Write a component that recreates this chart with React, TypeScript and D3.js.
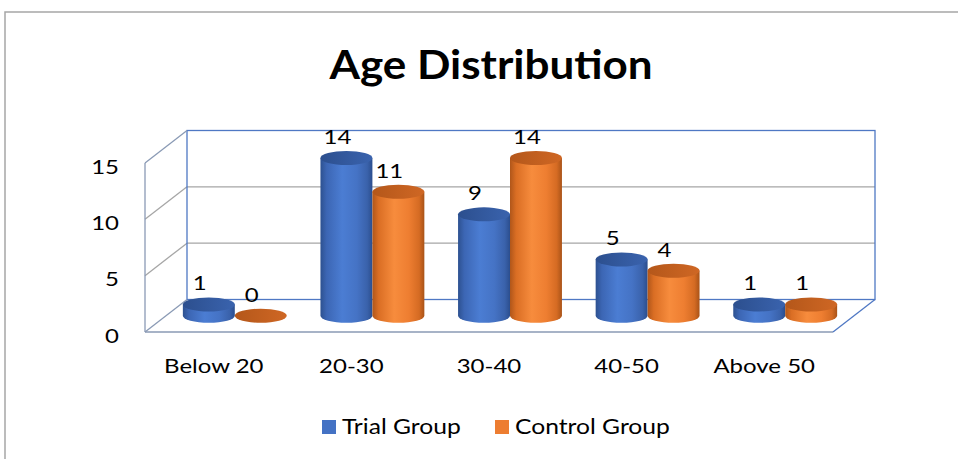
import React, { useEffect, useRef } from "react";
import * as d3 from "d3";

const categories = ["Below 20", "20-30", "30-40", "40-50", "Above 50"];
const seriesNames = ["Trial Group", "Control Group"];
const trialGroup = [1, 14, 9, 5, 1];
const controlGroup = [0, 11, 14, 4, 1];
const yTicks = [0, 5, 10, 15];

const W = 958;
const H = 459;
const FONT = "Lato, 'Open Sans', sans-serif";
const STRETCH = 1.2; // the picture text looks widened horizontally

export default function App() {
  const ref = useRef<SVGSVGElement | null>(null);

  useEffect(() => {
    const svg = d3.select(ref.current);
    svg.selectAll("*").remove();

    // front plane of the 3d box and its depth offset
    const left = 145;
    const right = 833;
    const DX = 42;
    const DY = -32.5;

    const y = d3.scaleLinear().domain([0, 15]).range([332, 163]);
    const x = d3
      .scaleBand<string>()
      .domain(categories)
      .range([left, right])
      .paddingInner(0.245)
      .paddingOuter(0.1225);
    const xs = d3.scaleBand<string>().domain(seriesNames).range([0, x.bandwidth()]);

    const defs = svg.append("defs");
    const grad = (id: string, stops: [number, string][]) => {
      const g = defs.append("linearGradient").attr("id", id).attr("x1", "0%").attr("x2", "100%").attr("y1", "0%").attr("y2", "0%");
      stops.forEach(([o, c]) => g.append("stop").attr("offset", o + "%").attr("stop-color", c));
    };
    grad("bodyBlue", [[0, "#2D5190"], [12, "#3C66B4"], [42, "#4B7DD3"], [70, "#4573C5"], [90, "#3A62AB"], [100, "#2B4E8E"]]);
    grad("bodyOrange", [[0, "#B0561A"], [12, "#DA6E24"], [42, "#F78C3D"], [70, "#EE7E31"], [90, "#D56B23"], [100, "#A95318"]]);
    grad("topBlue", [[0, "#2C4F8E"], [100, "#3A63AE"]]);
    grad("topOrange", [[0, "#B4571A"], [100, "#CF6724"]]);

    // outer chart border
    svg.append("rect")
      .attr("x", 5).attr("y", 12).attr("width", W + 40).attr("height", H + 40)
      .attr("fill", "white").attr("stroke", "#A6A6A6").attr("stroke-width", 1.5);

    const blue = "#4F78C4";
    const sideCol = "#8A9AB5";
    const grey = "#A6A6A6";

    // back wall grid lines
    const box = svg.append("g").attr("fill", "none").attr("stroke-width", 1.3);
    yTicks.filter((t) => t > 0 && t < 15).forEach((t) => {
      box.append("line")
        .attr("x1", left + DX).attr("x2", right + DX)
        .attr("y1", y(t) + DY).attr("y2", y(t) + DY)
        .attr("stroke", grey);
      box.append("line")
        .attr("x1", left).attr("x2", left + DX)
        .attr("y1", y(t)).attr("y2", y(t) + DY)
        .attr("stroke", grey);
    });
    // back wall frame
    box.append("rect")
      .attr("x", left + DX).attr("y", y(15) + DY)
      .attr("width", right - left).attr("height", y(0) - y(15))
      .attr("stroke", blue);
    // side wall and floor
    box.append("line").attr("x1", left).attr("x2", left).attr("y1", y(15)).attr("y2", y(0)).attr("stroke", sideCol);
    box.append("line").attr("x1", left).attr("x2", left + DX).attr("y1", y(15)).attr("y2", y(15) + DY).attr("stroke", sideCol);
    box.append("line").attr("x1", left).attr("x2", left + DX).attr("y1", y(0)).attr("y2", y(0) + DY).attr("stroke", sideCol);
    box.append("line").attr("x1", left).attr("x2", right).attr("y1", y(0)).attr("y2", y(0)).attr("stroke", sideCol);
    box.append("line").attr("x1", right).attr("x2", right + DX).attr("y1", y(0)).attr("y2", y(0) + DY).attr("stroke", blue);

    // y axis labels
    svg.append("g")
      .selectAll("text")
      .data(yTicks)
      .join("text")
      .attr("transform", (d) => `translate(119, ${y(d) + 3}) scale(${STRETCH},1)`)
      .attr("text-anchor", "end")
      .attr("dominant-baseline", "central")
      .style("font", `20px ${FONT}`)
      .text((d) => d);

    // category labels
    svg.append("g")
      .selectAll("text")
      .data(categories)
      .join("text")
      .attr("transform", (d) => `translate(${x(d)! + x.bandwidth() / 2}, 373) scale(${STRETCH},1)`)
      .attr("text-anchor", "middle")
      .style("font", `20px ${FONT}`)
      .text((d) => d);

    // cylinders
    const rx = xs.bandwidth() / 2;
    const ry = 7;
    const series = [
      { name: seriesNames[0], values: trialGroup, body: "url(#bodyBlue)", top: "url(#topBlue)" },
      { name: seriesNames[1], values: controlGroup, body: "url(#bodyOrange)", top: "url(#topOrange)" },
    ];
    const bars = svg.append("g");
    categories.forEach((cat, i) => {
      series.forEach((s) => {
        const v = s.values[i];
        const cx = x(cat)! + xs(s.name)! + rx + DX / 2;
        const base = y(0) + DY / 2;
        const top = y(v) + DY / 2;
        if (v > 0) {
          bars.append("path")
            .attr("d", `M${cx - rx},${top} L${cx - rx},${base} A${rx},${ry} 0 0 0 ${cx + rx},${base} L${cx + rx},${top} Z`)
            .attr("fill", s.body);
        }
        bars.append("ellipse")
          .attr("cx", cx).attr("cy", top).attr("rx", rx).attr("ry", ry)
          .attr("fill", s.top);
        bars.append("text")
          .attr("transform", `translate(${cx - 9}, ${top - ry - 7}) scale(${STRETCH},1)`)
          .attr("text-anchor", "middle")
          .style("font", `20px ${FONT}`)
          .text(v);
      });
    });

    // title
    svg.append("text")
      .attr("transform", `translate(491, 79) scale(1.1,1)`)
      .attr("text-anchor", "middle")
      .style("font", `bold 40px ${FONT}`)
      .text("Age Distribution");

    // legend
    const legendX = [322, 495];
    const legendCol = ["#4472C4", "#ED7D31"];
    seriesNames.forEach((name, i) => {
      svg.append("rect")
        .attr("x", legendX[i]).attr("y", 420).attr("width", 14).attr("height", 14)
        .attr("fill", legendCol[i]);
      svg.append("text")
        .attr("transform", `translate(${legendX[i] + 20}, 434) scale(1.12,1)`)
        .style("font", `22px ${FONT}`)
        .text(name);
    });
  }, []);

  return (
    <svg
      ref={ref}
      width={W}
      height={H}
      style={{ position: "absolute", left: 0, top: 0, background: "white" }}
    />
  );
}
